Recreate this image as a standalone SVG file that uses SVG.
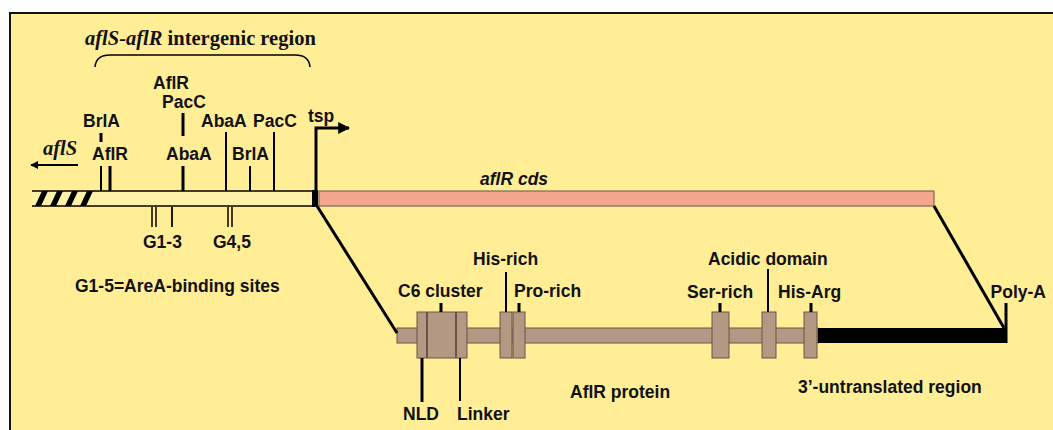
<svg xmlns="http://www.w3.org/2000/svg" width="1053" height="430" viewBox="0 0 1053 430">
<style>
.lb{font-family:"Liberation Sans",Arial,sans-serif;font-weight:bold;font-size:17.5px;fill:#111}
.tt{font-family:"Liberation Serif","Times New Roman",serif;font-weight:bold;font-size:20.5px;fill:#111}
.ln{stroke:#000;fill:none}
.pr{fill:#B39883;stroke:#6a5545;stroke-width:1}
.pd{stroke:#6a5545;stroke-width:2}
</style>
<defs>
<marker id="ah" viewBox="0 0 10 10" refX="9" refY="5" markerWidth="4" markerHeight="4" orient="auto-start-reverse">
<path d="M0,0 L10,5 L0,10 z" fill="#000"/>
</marker>
</defs>
<rect x="0" y="0" width="1053" height="430" fill="#fff"/>
<rect x="10" y="13" width="1060" height="440" fill="#FFEE96" stroke="#111" stroke-width="2"/>

<g id="title">
<text class="tt" x="85" y="45"><tspan font-style="italic">aflS-aflR</tspan> intergenic region</text>
<path class="ln" stroke-width="1.5" d="M95,67 Q96,55 110,55 L295,55 Q309,55 310,67"/>
</g>

<g id="dna-aflS">
<text class="tt" x="43" y="155" font-style="italic" font-size="21">aflS</text>
<rect x="32" y="191" width="63" height="15" fill="#FFF2A8"/>
<polygon points="35,206 41,206 48,191 42,191" fill="#000"/>
<polygon points="50,206 56,206 63,191 57,191" fill="#000"/>
<polygon points="65,206 71,206 78,191 72,191" fill="#000"/>
<polygon points="80,206 86,206 93,191 87,191" fill="#000"/>
</g>

<g id="dna-intergenic">
<rect x="95" y="191" width="217" height="15" fill="#FFF2A8"/>
<line class="ln" x1="32" y1="191" x2="312" y2="191" stroke-width="1.5"/>
<line class="ln" x1="32" y1="206" x2="312" y2="206" stroke-width="1.5"/>
<rect x="312" y="190" width="6" height="17" fill="#000"/>
</g>

<g id="aflR-cds">
<rect x="319" y="191" width="615" height="15" fill="#F4A68C" stroke="#7a6a55" stroke-width="1.2"/>
<text class="lb" x="480" y="185" font-style="italic">aflR cds</text>
</g>

<g id="site-labels">
<text class="lb" x="83" y="127">BrlA</text>
<text class="lb" x="92" y="160">AflR</text>
<text class="lb" x="153" y="89">AflR</text>
<text class="lb" x="162" y="108">PacC</text>
<text class="lb" x="166" y="160">AbaA</text>
<text class="lb" x="201" y="127">AbaA</text>
<text class="lb" x="232" y="160">BrlA</text>
<text class="lb" x="253" y="127">PacC</text>
<text class="lb" x="308" y="122">tsp</text>
<text class="lb" x="143" y="248">G1-3</text>
<text class="lb" x="213" y="248">G4,5</text>
<text class="lb" x="75" y="292">G1-5=AreA-binding sites</text>
</g>

<g id="protein">
<rect class="pr" x="397" y="328" width="421" height="15"/>
<rect class="pr" x="417" y="312" width="50" height="46"/>
<line class="pd" x1="427" y1="312" x2="427" y2="358"/>
<line class="pd" x1="456" y1="312" x2="456" y2="358"/>
<rect class="pr" x="500" y="312" width="12" height="46"/>
<rect class="pr" x="513" y="312" width="12" height="46"/>
<rect class="pr" x="712" y="312" width="17" height="46"/>
<rect class="pr" x="762" y="312" width="14" height="46"/>
<rect class="pr" x="804" y="312" width="13" height="46"/>
<rect x="818" y="328" width="188" height="15" fill="#000"/>
</g>

<g id="protein-labels">
<text class="lb" x="398" y="297">C6 cluster</text>
<text class="lb" x="473" y="265">His-rich</text>
<text class="lb" x="514" y="297">Pro-rich</text>
<text class="lb" x="687" y="298">Ser-rich</text>
<text class="lb" x="708" y="265">Acidic domain</text>
<text class="lb" x="778" y="298">His-Arg</text>
<text class="lb" x="1046" y="298" font-size="16.5" text-anchor="end">Poly-A</text>
<text class="lb" x="403" y="420">NLD</text>
<text class="lb" x="457" y="420">Linker</text>
<text class="lb" x="570" y="398">AflR protein</text>
<text class="lb" x="798" y="393">3’-untranslated region</text>
</g>

<g id="connectors">
<line class="ln" x1="78" y1="165" x2="31" y2="165" stroke-width="2" marker-end="url(#ah)"/>
<polyline class="ln" points="316,191 316,128 349,128" stroke-width="3" marker-end="url(#ah)"/>
<line class="ln" x1="101" y1="133" x2="101" y2="142" stroke-width="3"/>
<line class="ln" x1="101" y1="166" x2="101" y2="191" stroke-width="2"/>
<line class="ln" x1="110" y1="166" x2="110" y2="191" stroke-width="3"/>
<line class="ln" x1="183" y1="113" x2="183" y2="136" stroke-width="3"/>
<line class="ln" x1="183" y1="166" x2="183" y2="191" stroke-width="3"/>
<line class="ln" x1="226" y1="132" x2="226" y2="191" stroke-width="2"/>
<line class="ln" x1="250" y1="166" x2="250" y2="191" stroke-width="2"/>
<line class="ln" x1="274" y1="132" x2="274" y2="191" stroke-width="2"/>
<line class="ln" x1="152" y1="207" x2="152" y2="227" stroke-width="1.5"/>
<line class="ln" x1="156" y1="207" x2="156" y2="227" stroke-width="1.5"/>
<line class="ln" x1="172" y1="207" x2="172" y2="227" stroke-width="1.8"/>
<line class="ln" x1="228" y1="207" x2="228" y2="227" stroke-width="1.5"/>
<line class="ln" x1="232" y1="207" x2="232" y2="227" stroke-width="1.5"/>
<line class="ln" x1="317" y1="206" x2="397" y2="333" stroke-width="3"/>
<line class="ln" x1="934" y1="206" x2="1004" y2="328" stroke-width="3"/>
<line class="ln" x1="441" y1="303" x2="441" y2="312" stroke-width="3"/>
<line class="ln" x1="422" y1="358" x2="422" y2="402" stroke-width="3"/>
<line class="ln" x1="460" y1="358" x2="460" y2="401" stroke-width="2"/>
<line class="ln" x1="506" y1="272" x2="506" y2="312" stroke-width="2"/>
<line class="ln" x1="519" y1="303" x2="519" y2="312" stroke-width="3"/>
<line class="ln" x1="720" y1="303" x2="720" y2="312" stroke-width="3"/>
<line class="ln" x1="768" y1="269" x2="768" y2="312" stroke-width="2"/>
<line class="ln" x1="811" y1="303" x2="811" y2="312" stroke-width="3"/>
<line class="ln" x1="1006" y1="303" x2="1006" y2="343" stroke-width="3"/>
</g>
</svg>
